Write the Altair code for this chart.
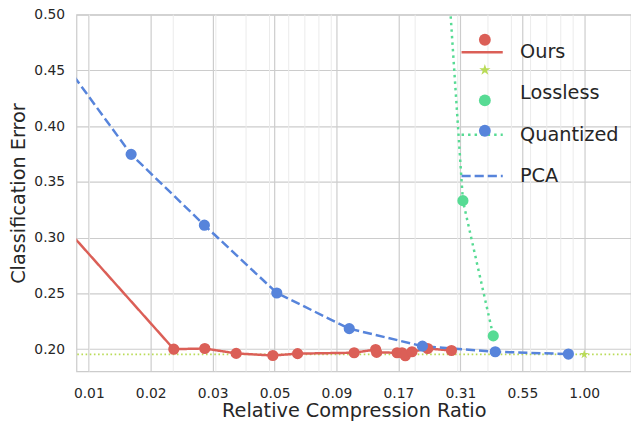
import altair as alt
import pandas as pd

# ---------------- data ----------------
series_order = ["Ours", "Lossless", "Quantized", "PCA"]
series_colors = ["#db5f57", "#b9db57", "#57db94", "#5784db"]

ours_x = [0.0067, 0.0201, 0.0270, 0.0364, 0.0516, 0.0653, 0.1119, 0.1373, 0.1386,
          0.1684, 0.1765, 0.1821, 0.1940, 0.2254, 0.2826]
ours_y = [0.316, 0.2000, 0.2006, 0.1962, 0.1943, 0.1960, 0.1968, 0.1997, 0.1971,
          0.1968, 0.1968, 0.1941, 0.1977, 0.2006, 0.1988]

pca_x = [0.0067, 0.01339, 0.02689, 0.05358, 0.1068, 0.2143, 0.4287, 0.8602]
pca_y = [0.4638, 0.3747, 0.3112, 0.2504, 0.2184, 0.2027, 0.1977, 0.1956]

quant_x = [0.236, 0.3151, 0.4207]
quant_y = [0.7437, 0.3332, 0.2119]

lossless_x = [1.0]
lossless_y = [0.1953]

x_ticks = [0.00895, 0.01614, 0.0291, 0.0525, 0.0946, 0.1706, 0.3076, 0.5546, 1.0]
x_minor = [0.009, 0.02, 0.03, 0.04, 0.05, 0.06, 0.07, 0.08, 0.09,
           0.2, 0.3, 0.4, 0.5, 0.6, 0.7, 0.8, 0.9]
y_ticks = [0.20, 0.25, 0.30, 0.35, 0.40, 0.45, 0.50]
x_domain = [0.00796, 1.561]
y_domain = [0.18, 0.50]

# five-pointed star symbol (unit box -1..1)
STAR = ("M0,-1L0.2245,-0.309L0.9511,-0.309L0.3633,0.118L0.5878,0.809L0,0.382"
        "L-0.5878,0.809L-0.3633,0.118L-0.9511,-0.309L-0.2245,-0.309Z")

# ---------------- tables ----------------
rows = []
for name, xs, ys in [("Ours", ours_x, ours_y), ("Quantized", quant_x, quant_y), ("PCA", pca_x, pca_y)]:
    for xv, yv in zip(xs, ys):
        rows.append({"series": name, "x": xv, "y": yv})
lines_df = pd.DataFrame(rows)
# marker keys differ from line keys so that Vega-Lite keeps the two legends apart
marker_order = [s + " marker" for s in series_order]
points_df = lines_df.assign(marker=lines_df["series"] + " marker")
lossless_df = pd.DataFrame({"series": ["Lossless"] * len(lossless_x), "x": lossless_x, "y": lossless_y})
minor_df = pd.DataFrame({"x": x_minor})

FONT = "DejaVu Sans"
TXT = "#262626"

x_enc = alt.X(
    "x:Q",
    scale=alt.Scale(type="log", domain=x_domain, nice=False),
    axis=alt.Axis(values=x_ticks, format=".2f", title="Relative Compression Ratio",
                  grid=True, gridColor="#cccccc", gridWidth=1.2, domain=False, ticks=False,
                  labelPadding=15, titlePadding=2, labelFontSize=14, titleFontSize=19.5,
                  titleFontWeight="normal", labelFlush=False),
)
y_enc = alt.Y(
    "y:Q",
    scale=alt.Scale(domain=y_domain, nice=False, zero=False),
    axis=alt.Axis(values=y_ticks, format=".2f", title="Classification Error",
                  grid=True, gridColor="#cccccc", gridWidth=1.2, domain=False, ticks=False,
                  labelPadding=12, titlePadding=5, labelFontSize=14, titleFontSize=19.5,
                  titleFontWeight="normal", labelFlush=False),
)

leg_lines = alt.Legend(title=None, orient="none", legendX=387.9, legendY=15.6,
                       symbolType="stroke", symbolSize=1739, symbolStrokeWidth=2.5,
                       labelFont=FONT, labelFontSize=19.5, labelColor=TXT,
                       labelOffset=15.8, rowPadding=9.7, padding=0)
leg_points = alt.Legend(title=None, orient="none", legendX=403.4, legendY=15.6,
                        symbolSize=144, symbolStrokeWidth=0,
                        labelFont=FONT, labelFontSize=19.5, labelColor="transparent",
                        labelOffset=15.8, rowPadding=9.7, padding=0)

minor_grid = alt.Chart(minor_df).mark_rule(color="#ebebeb", strokeWidth=1).encode(x=x_enc)

lossless_rule = alt.Chart(lossless_df).mark_rule(
    color="#b9db57", strokeWidth=1.6, strokeDash=[1.6, 2.6]
).encode(y=y_enc)

lines = alt.Chart(lines_df).mark_line(clip=True, strokeWidth=2.5).encode(
    x=x_enc,
    y=y_enc,
    stroke=alt.Stroke("series:N",
                      scale=alt.Scale(domain=series_order,
                                      range=["#db5f57", "transparent", "#57db94", "#5784db"]),
                      legend=leg_lines),
    strokeDash=alt.StrokeDash("series:N",
                              scale=alt.Scale(domain=series_order,
                                              range=[[1, 0], [1, 0], [2.5, 4.1], [9.25, 4]]),
                              legend=leg_lines),
)

points = alt.Chart(points_df).mark_point(filled=True, clip=True, opacity=1, size=128, strokeWidth=0).encode(
    x=x_enc,
    y=y_enc,
    fill=alt.Fill("marker:N", scale=alt.Scale(domain=marker_order, range=series_colors),
                  legend=leg_points),
    shape=alt.Shape("marker:N",
                    scale=alt.Scale(domain=marker_order, range=["circle", STAR, "circle", "circle"]),
                    legend=leg_points),
)

star = alt.Chart(lossless_df).mark_point(filled=True, clip=True, opacity=1, size=90,
                                         shape=STAR, color="#b9db57", strokeWidth=0).encode(
    x=x_enc, y=y_enc
)

chart = alt.layer(minor_grid, lossless_rule, lines, points, star).properties(
    width=561, height=361,
    autosize=alt.AutoSizeParams(type="none"),
    padding={"left": 69.3, "top": 4.3, "right": 0, "bottom": 50},
).configure_view(
    stroke="#cccccc", strokeWidth=1.25
).configure_axis(
    labelFont=FONT, titleFont=FONT, labelColor=TXT, titleColor=TXT
)

chart.save("out.html", embed_options={"renderer": "svg", "actions": False})
